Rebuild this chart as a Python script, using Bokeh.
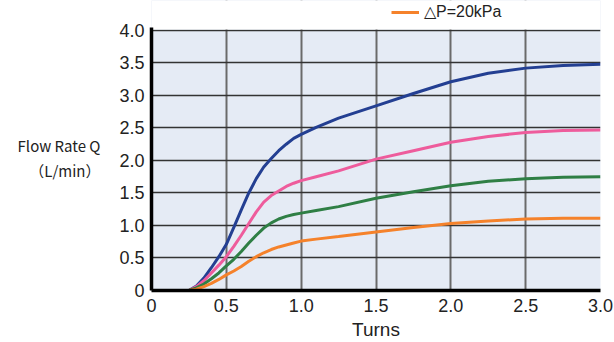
from bokeh.plotting import figure
from bokeh.models import Range1d, FixedTicker, Legend, LegendItem, BoxAnnotation
from bokeh.embed import file_html
from bokeh.resources import INLINE

turns = [0.25, 0.3, 0.35, 0.4, 0.45, 0.5, 0.55, 0.6, 0.65, 0.7, 0.75, 0.8, 0.85, 0.9, 0.95,
         1.0, 1.1, 1.25, 1.5, 1.75, 2.0, 2.25, 2.5, 2.75, 3.0]
q_blue = [0.0, 0.07, 0.19, 0.35, 0.52, 0.71, 0.97, 1.24, 1.50, 1.72, 1.90, 2.03, 2.15, 2.25, 2.34,
          2.40, 2.51, 2.65, 2.84, 3.03, 3.21, 3.34, 3.42, 3.46, 3.48]
q_pink = [0.0, 0.06, 0.15, 0.27, 0.39, 0.52, 0.68, 0.85, 1.03, 1.21, 1.36, 1.46, 1.53, 1.60, 1.65,
          1.69, 1.75, 1.84, 2.02, 2.15, 2.28, 2.37, 2.43, 2.46, 2.47]
q_green = [0.0, 0.04, 0.10, 0.18, 0.27, 0.38, 0.48, 0.60, 0.73, 0.85, 0.96, 1.04, 1.10, 1.14, 1.17,
           1.19, 1.23, 1.29, 1.42, 1.52, 1.61, 1.68, 1.72, 1.74, 1.75]
q_orange = [0.0, 0.02, 0.06, 0.11, 0.17, 0.24, 0.30, 0.37, 0.45, 0.52, 0.58, 0.63, 0.67, 0.70, 0.73,
            0.76, 0.79, 0.83, 0.90, 0.97, 1.03, 1.07, 1.10, 1.11, 1.11]

x_ticks = [0, 0.5, 1.0, 1.5, 2.0, 2.5, 3.0]
x_labels = ["0", "0.5", "1.0", "1.5", "2.0", "2.5", "3.0"]
y_ticks = [0, 0.5, 1.0, 1.5, 2.0, 2.5, 3.0, 3.5, 4.0]
y_labels = ["0", "0.5", "1.0", "1.5", "2.0", "2.5", "3.0", "3.5", "4.0"]
legend_label = "△P=20kPa"

X_MIN, X_MAX = 0, 3
Y_MIN, Y_MAX = 0, 4
Y_TOP = 4.46  # headroom above the plot area for the legend

FONT = "Liberation Sans"

p = figure(width=614, height=342, output_backend="svg", toolbar_location=None,
           x_range=Range1d(X_MIN, X_MAX), y_range=Range1d(Y_MIN, Y_TOP),
           min_border_left=151, min_border_right=14, min_border_top=0, min_border_bottom=51)

p.background_fill_color = "#e5ebf5"
p.border_fill_color = "white"
p.outline_line_color = None

# grid
p.xgrid.ticker = FixedTicker(ticks=x_ticks[1:-1])
p.ygrid.ticker = FixedTicker(ticks=y_ticks[1:])
p.xgrid.grid_line_color = "#6a6a6a"
p.xgrid.grid_line_width = 2
p.ygrid.grid_line_color = "#333333"
p.ygrid.grid_line_width = 1.5

# white headroom above the 4.0 line (hides background and grid there)
p.add_layout(BoxAnnotation(bottom=Y_MAX + 0.013, fill_color="white", fill_alpha=1,
                           line_color=None, level="glyph"))

# axes
for ax, ticks, labels in ((p.xaxis[0], x_ticks, x_labels), (p.yaxis[0], y_ticks, y_labels)):
    ax.ticker = FixedTicker(ticks=ticks)
    ax.major_label_overrides = {t: l for t, l in zip(ticks, labels)}
    ax.axis_line_color = "black"
    ax.axis_line_width = 3.5
    ax.major_tick_line_color = None
    ax.minor_tick_line_color = None
    ax.major_label_text_font = FONT
    ax.major_label_text_font_size = "18px"
    ax.major_label_text_color = "#222222"
    ax.axis_label_text_font_style = "normal"
    ax.axis_label_text_color = "#222222"

p.yaxis.bounds = (Y_MIN, Y_MAX + 0.05)

p.xaxis.axis_label = "Turns"
p.xaxis.axis_label_text_font = FONT
p.xaxis.axis_label_text_font_size = "19px"
p.xaxis.axis_label_standoff = 4
p.xaxis.major_label_standoff = 2

p.yaxis.axis_label = "\nFlow Rate Q\n（L/min）"
p.yaxis.axis_label_orientation = "horizontal"
p.yaxis.axis_label_text_font = "Noto Sans CJK JP"
p.yaxis.axis_label_text_font_size = "15px"
p.yaxis.axis_label_text_align = "center"
p.yaxis.axis_label_standoff = 16
p.yaxis.major_label_standoff = 1

r_blue = p.line(turns, q_blue, line_color="#233f92", line_width=3)
r_pink = p.line(turns, q_pink, line_color="#ee5c9c", line_width=3)
r_green = p.line(turns, q_green, line_color="#2f7f45", line_width=3)
r_orange = p.line(turns, q_orange, line_color="#f5822b", line_width=3)

legend = Legend(items=[LegendItem(label=legend_label, renderers=[r_orange])],
                location=(240, 269), padding=0, margin=0, spacing=0,
                glyph_width=28, glyph_height=16, label_height=16, label_standoff=5,
                label_text_font=FONT, label_text_font_size="16px", label_text_color="#222222",
                border_line_color=None, background_fill_alpha=0)
p.add_layout(legend, "center")

open("out.html", "w").write(file_html(p, INLINE))
